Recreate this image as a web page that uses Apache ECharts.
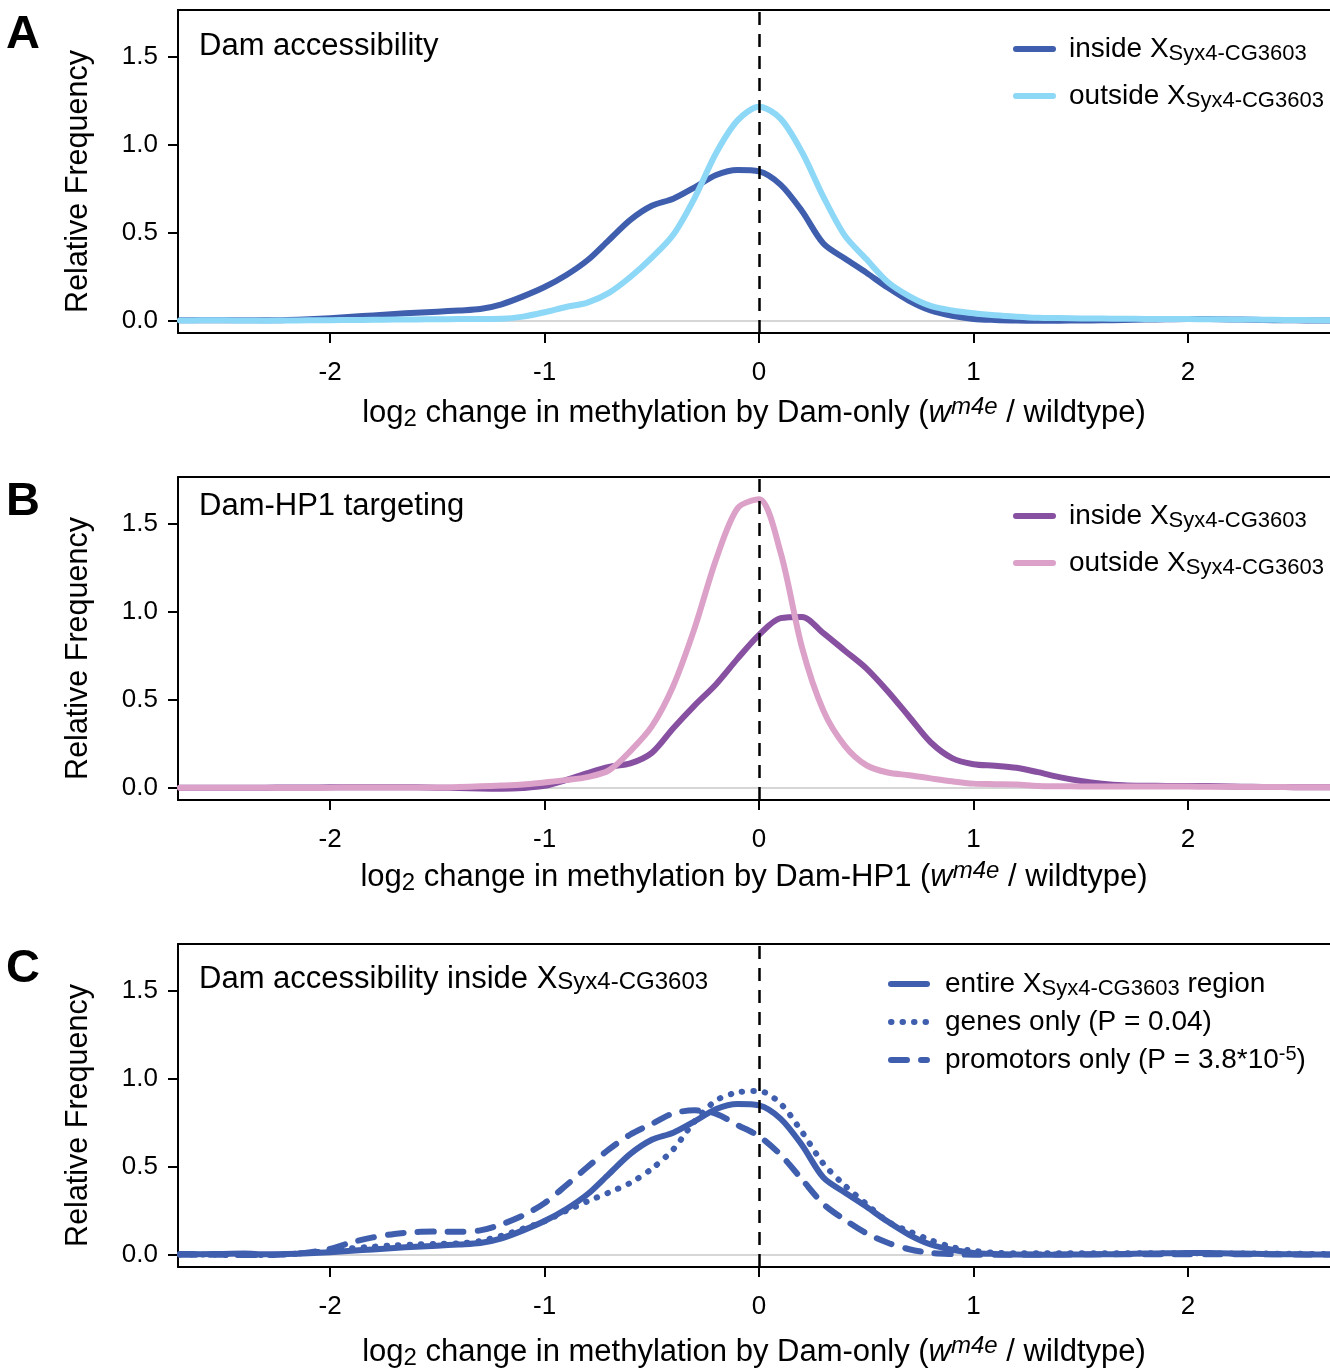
<!DOCTYPE html>
<html><head><meta charset="utf-8">
<script src="https://cdn.jsdelivr.net/npm/echarts@6/dist/echarts.min.js"></script>
<style>html,body{margin:0;padding:0;background:#fff}#c{width:1330px;height:1368px}</style>
</head><body><div id="c"></div>
<script>
// ---- data ----
const X = [-2.7,-2.6,-2.5,-2.4,-2.3,-2.2,-2.1,-2.0,-1.9,-1.8,-1.7,-1.6,-1.5,-1.4,-1.3,-1.2,-1.1,-1.0,-0.9,-0.8,
  -0.7,-0.6,-0.5,-0.4,-0.3,-0.2,-0.1,0,0.1,0.2,0.3,0.4,0.5,0.6,0.7,0.8,0.9,1.0,1.1,1.2,
  1.3,1.4,1.5,1.6,1.7,1.8,1.9,2.0,2.1,2.2,2.3,2.4,2.5,2.6,2.7];

const damInside = [0.005,0.005,0.005,0.005,0.004,0.006,0.010,0.016,0.024,0.032,
  0.040,0.047,0.053,0.060,0.068,0.095,0.140,0.193,0.260,0.345,
  0.460,0.575,0.655,0.695,0.760,0.830,0.858,0.850,0.775,0.625,
  0.440,0.355,0.275,0.190,0.115,0.060,0.030,0.012,0.006,0.003,
  0.002,0.002,0.003,0.004,0.006,0.008,0.010,0.012,0.011,0.009,
  0.007,0.005,0.004,0.003,0.003];

const damOutside = [0.003,0.004,0.004,0.003,0.002,0.003,0.004,0.005,0.006,0.007,
  0.008,0.009,0.010,0.011,0.012,0.013,0.025,0.050,0.080,0.105,
  0.160,0.250,0.360,0.490,0.700,0.955,1.140,1.218,1.150,0.960,
  0.706,0.485,0.352,0.222,0.142,0.086,0.060,0.044,0.033,0.025,
  0.019,0.017,0.015,0.014,0.013,0.012,0.011,0.011,0.010,0.009,
  0.008,0.007,0.006,0.005,0.005];

const hp1Inside = [0.002,0.002,0.002,0.002,0.002,0.003,0.003,0.004,0.004,0.005,
  0.005,0.004,0.002,0.000,-0.003,-0.004,0.000,0.012,0.045,0.085,
  0.120,0.140,0.200,0.340,0.470,0.590,0.735,0.870,0.965,0.972,
  0.880,0.780,0.680,0.550,0.405,0.260,0.170,0.135,0.127,0.115,
  0.090,0.062,0.040,0.025,0.016,0.013,0.012,0.012,0.011,0.009,
  0.007,0.006,0.005,0.004,0.004];

const hp1Outside = [0.002,0.002,0.002,0.002,0.002,0.002,0.002,0.002,0.003,0.003,
  0.003,0.003,0.003,0.006,0.010,0.014,0.020,0.032,0.045,0.062,
  0.100,0.210,0.350,0.580,0.910,1.300,1.590,1.640,1.340,0.800,
  0.440,0.240,0.130,0.088,0.073,0.055,0.038,0.025,0.022,0.020,
  0.012,0.010,0.009,0.008,0.008,0.008,0.008,0.008,0.007,0.007,
  0.006,0.006,0.005,0.005,0.005];

const entireRegion = [0.006,0.005,0.006,0.008,0.004,0.006,0.010,0.016,0.024,0.032,
  0.040,0.047,0.053,0.060,0.068,0.095,0.140,0.193,0.260,0.345,
  0.460,0.575,0.655,0.695,0.760,0.830,0.858,0.850,0.775,0.625,
  0.440,0.355,0.275,0.190,0.115,0.060,0.030,0.012,0.006,0.003,
  0.002,0.002,0.003,0.004,0.006,0.008,0.010,0.012,0.011,0.009,
  0.007,0.005,0.004,0.003,0.003];

const genesOnly = [0.003,0.003,0.002,0.000,0.000,0.005,0.012,0.025,0.038,0.047,
  0.055,0.060,0.063,0.066,0.080,0.110,0.150,0.192,0.250,0.305,
  0.355,0.410,0.490,0.600,0.760,0.878,0.924,0.932,0.860,0.700,
  0.519,0.395,0.290,0.190,0.135,0.085,0.045,0.024,0.013,0.010,
  0.010,0.010,0.010,0.010,0.010,0.010,0.010,0.010,0.009,0.009,
  0.008,0.008,0.007,0.006,0.006];

const promotorsOnly = [0.002,0.002,0.001,0.000,0.000,0.005,0.015,0.035,0.072,0.100,
  0.120,0.131,0.133,0.132,0.140,0.175,0.225,0.295,0.395,0.500,
  0.600,0.685,0.745,0.805,0.822,0.802,0.738,0.675,0.570,0.430,
  0.290,0.200,0.124,0.070,0.033,0.012,0.005,0.002,0.002,0.002,
  0.003,0.003,0.004,0.004,0.005,0.005,0.005,0.005,0.005,0.004,
  0.004,0.004,0.003,0.003,0.003];

const xTicks = [-2, -1, 0, 1, 2];
const yTicks = [0, 0.5, 1.0, 1.5];

// ---- styling / layout ----
const FONT = '"Liberation Sans", Arial, Helvetica, sans-serif';
const DARK = '#3F5FAE', LIGHT = '#8DD7F7', PURPLE = '#8750A1', PINK = '#DCA1C9';
const XMIN = -2.709, XMAX = 2.662, YMIN = -0.068, YMAX = 1.767;
const GRID_TOPS = [10, 477, 944];
const pair = vals => X.map((x, i) => [x, vals[i]]);

const richAxis = {
  t: {fontSize: 31, lineHeight: 36, fontFamily: FONT, color: '#000'},
  s: {fontSize: 24, lineHeight: 18, verticalAlign: 'bottom', fontFamily: FONT, color: '#000'},
  i: {fontSize: 31, lineHeight: 36, fontStyle: 'italic', fontFamily: FONT, color: '#000'},
  p: {fontSize: 24, lineHeight: 18, verticalAlign: 'top', fontStyle: 'italic', fontFamily: FONT, color: '#000'}
};
const richLegend = {
  t: {fontSize: 28, lineHeight: 32, fontFamily: FONT, color: '#000'},
  f: {fontSize: 28, lineHeight: 32, fontFamily: FONT, color: '#000', padding: [0, 0, 0, 10]},
  s: {fontSize: 22, lineHeight: 13, verticalAlign: 'bottom', fontFamily: FONT, color: '#000'},
  p: {fontSize: 20, lineHeight: 16, verticalAlign: 'top', fontFamily: FONT, color: '#000'}
};

const xNames = [
  '{t|log}{s|2}{t| change in methylation by Dam-only (}{i|w}{p|m4e}{t| / wildtype)}',
  '{t|log}{s|2}{t| change in methylation by Dam-HP1 (}{i|w}{p|m4e}{t| / wildtype)}',
  '{t|log}{s|2}{t| change in methylation by Dam-only (}{i|w}{p|m4e}{t| / wildtype)}'
];
const xNameGaps = [62, 59, 67];

const grids = GRID_TOPS.map(t => ({left: 178, top: t, right: 0, height: 323, show: false,
  containLabel: false, outerBoundsMode: 'none'}));

const xAxes = [0, 1, 2].map(i => ({
  type: 'value', gridIndex: i, min: XMIN, max: XMAX, position: 'bottom',
  axisLine: {show: true, onZero: false, lineStyle: {color: '#000', width: 2}},
  axisTick: {show: true, customValues: xTicks, length: 10, lineStyle: {color: '#000', width: 2}},
  axisLabel: {show: true, customValues: xTicks, fontSize: 26, color: '#000', margin: 27, fontFamily: FONT,
    formatter: v => String(v)},
  splitLine: {show: false},
  name: xNames[i], nameLocation: 'middle', nameGap: xNameGaps[i],
  nameTextStyle: {rich: richAxis, fontFamily: FONT, fontSize: 31, color: '#000'}
})).concat([0, 1, 2].map(i => ({
  // top frame line of each panel
  type: 'value', gridIndex: i, min: XMIN, max: XMAX, position: 'top',
  axisLine: {show: true, onZero: false, lineStyle: {color: '#000', width: 2}},
  axisTick: {show: false}, axisLabel: {show: false}, splitLine: {show: false}
})));

const yAxes = [0, 1, 2].map(i => ({
  type: 'value', gridIndex: i, min: YMIN, max: YMAX,
  axisLine: {show: true, onZero: false, lineStyle: {color: '#000', width: 2}},
  axisTick: {show: true, customValues: yTicks, length: 10, lineStyle: {color: '#000', width: 2}},
  axisLabel: {show: true, customValues: yTicks, fontSize: 26, color: '#000', margin: 20, fontFamily: FONT,
    formatter: v => v.toFixed(1)},
  splitLine: {show: false},
  name: 'Relative Frequency', nameLocation: 'middle', nameGap: 84, nameRotate: 90,
  nameTextStyle: {fontSize: 30.5, lineHeight: 30, color: '#000', fontFamily: FONT, padding: [0, 20, 0, 0]}
}));

function curve(name, idx, vals, color, type, z) {
  return {
    name, type: 'line', xAxisIndex: idx, yAxisIndex: idx, data: pair(vals),
    smooth: 0.3, symbol: 'none', showSymbol: false, z: z || 2, clip: true,
    lineStyle: {color, width: 6, type: type || 'solid', cap: 'round', join: 'round'},
    itemStyle: {color}, emphasis: {disabled: true}
  };
}
function refLines(idx) {
  return [
    {name: 'zero' + idx, type: 'line', xAxisIndex: idx, yAxisIndex: idx, data: [], z: 1, silent: true,
      markLine: {silent: true, z: 1, symbol: 'none', label: {show: false}, animation: false,
        lineStyle: {color: '#d6d6d6', width: 2, type: 'solid'}, data: [{yAxis: 0}]}},
    {name: 'origin' + idx, type: 'line', xAxisIndex: idx, yAxisIndex: idx, data: [], z: 10, silent: true,
      markLine: {silent: true, z: 10, symbol: 'none', label: {show: false}, animation: false,
        lineStyle: {color: '#000', width: 2.5, type: [13, 9]}, data: [{xAxis: 0}]}}
  ];
}

const legendNames = {
  'A inside': '{f|inside X}{s|Syx4-CG3603}',
  'A outside': '{f|outside X}{s|Syx4-CG3603}',
  'B inside': '{f|inside X}{s|Syx4-CG3603}',
  'B outside': '{f|outside X}{s|Syx4-CG3603}',
  'C entire': '{f|entire X}{s|Syx4-CG3603}{t| region}',
  'C genes': '{f|genes only (P = 0.04)}',
  'C promotors': '{f|promotors only (P = 3.8*10}{p|-5}{t|)}'
};
function legendOpt(data, left, top, gap, w, pad) {
  const rich = JSON.parse(JSON.stringify(richLegend));
  rich.f.padding = [0, 0, 0, pad];
  return {data, orient: 'vertical', left, top, itemGap: gap, itemWidth: w, itemHeight: 12, padding: 0,
    selectedMode: false,
    lineStyle: {width: 6},
    itemStyle: {color: 'rgba(0,0,0,0)', borderColor: 'rgba(0,0,0,0)', borderWidth: 0, opacity: 0},
    textStyle: {rich, fontSize: 28, fontFamily: FONT, color: '#000'},
    formatter: n => legendNames[n]};
}

const titleRich = {
  t: {fontSize: 31, lineHeight: 30, fontWeight: 'normal', fontFamily: FONT, color: '#000'},
  s: {fontSize: 24, lineHeight: 8, fontWeight: 'normal', verticalAlign: 'bottom', fontFamily: FONT, color: '#000'}
};
const titles = [
  {text: 'A', left: 6, top: GRID_TOPS[0] + 2},
  {text: 'B', left: 6, top: GRID_TOPS[1] + 2},
  {text: 'C', left: 6, top: GRID_TOPS[2] + 2}
].map(o => Object.assign(o, {padding: 0, textStyle: {fontSize: 47, lineHeight: 47, fontWeight: 'bold', color: '#000', fontFamily: FONT}}))
.concat([
  {text: '{t|Dam accessibility}', left: 199, top: 31},
  {text: '{t|Dam-HP1 targeting}', left: 199, top: 491},
  {text: '{t|Dam accessibility inside X}{s|Syx4-CG3603}', left: 199, top: 964}
].map(o => Object.assign(o, {padding: 0, textStyle: {rich: titleRich, fontSize: 31, fontWeight: 'normal', color: '#000', fontFamily: FONT}})));

const option = {
  animation: false,
  backgroundColor: '#fff',
  textStyle: {fontFamily: FONT},
  title: titles,
  grid: grids,
  xAxis: xAxes,
  yAxis: yAxes,
  legend: [
    legendOpt(['A inside', 'A outside'], 1013, 35, 17, 37, 11),
    legendOpt(['B inside', 'B outside'], 1013, 502, 17, 37, 11),
    legendOpt(['C entire', 'C genes', 'C promotors'], 888, 970, 8, 36, 13)
  ],
  series: [
    ...refLines(0),
    curve('A inside', 0, damInside, DARK, 'solid', 2),
    curve('A outside', 0, damOutside, LIGHT, 'solid', 3),
    ...refLines(1),
    curve('B inside', 1, hp1Inside, PURPLE, 'solid', 2),
    curve('B outside', 1, hp1Outside, PINK, 'solid', 3),
    ...refLines(2),
    curve('C entire', 2, entireRegion, DARK, 'solid', 2),
    curve('C genes', 2, genesOnly, DARK, [0.5, 11], 3),
    curve('C promotors', 2, promotorsOnly, DARK, [16, 14], 4)
  ]
};
const chart = echarts.init(document.getElementById('c'), null, {renderer: 'canvas'});
chart.setOption(option);
</script>
</body></html>
